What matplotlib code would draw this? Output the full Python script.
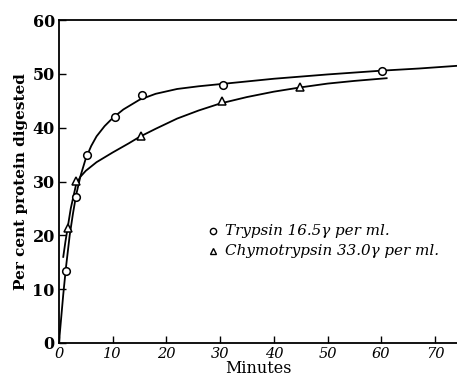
import numpy as np
import matplotlib
matplotlib.use('Agg')
import matplotlib.pyplot as plt

# measured points (minutes, per cent digested)
tryp_min = [1.3, 3.2, 5.3, 10.4, 15.4, 30.5, 60.1]
tryp_pct = [13.3, 27.1, 34.9, 41.9, 46.1, 48.0, 50.6]
chymo_min = [1.6, 3.2, 15.3, 30.3, 44.9]
chymo_pct = [21.3, 30.1, 38.4, 45.0, 47.5]

# hand-drawn smooth curves
tryp_curve_x = [0, 0.4, 0.8, 1.3, 2.0, 2.6, 3.2, 4.0, 5.0, 6.0, 7.0, 8.5, 10, 12, 15, 18, 22, 26, 30, 35, 40, 50, 60, 67, 74.1]
tryp_curve_y = [0, 4.5, 9.0, 14.0, 20.0, 24.0, 27.5, 31.0, 34.3, 36.6, 38.4, 40.3, 41.8, 43.4, 45.2, 46.3, 47.2, 47.7, 48.1, 48.6, 49.1, 49.9, 50.6, 51.0, 51.5]
chymo_curve_x = [0.8, 1.2, 1.6, 2.2, 3.2, 4.0, 5.0, 7.0, 10, 13, 15, 18, 22, 26, 30, 35, 40, 45, 50, 55, 61]
chymo_curve_y = [16.0, 18.8, 21.3, 25.0, 29.5, 30.9, 32.0, 33.6, 35.4, 37.1, 38.3, 39.8, 41.7, 43.2, 44.5, 45.7, 46.7, 47.5, 48.2, 48.7, 49.2]

xticks = [0, 10, 20, 30, 40, 50, 60, 70]
yticks = [0, 10, 20, 30, 40, 50, 60]

fig = plt.figure(figsize=(4.57, 3.79), dpi=100)
ax = fig.add_axes([0.129, 0.095, 0.871, 0.852])

ax.plot(tryp_curve_x, tryp_curve_y, color='black', lw=1.3)
ax.plot(chymo_curve_x, chymo_curve_y, color='black', lw=1.3)
ax.plot(tryp_min, tryp_pct, 'o', ms=5.5, mfc='white', mec='black', mew=1.1, zorder=3)
ax.plot(chymo_min, chymo_pct, '^', ms=5.5, mfc='white', mec='black', mew=1.1, zorder=3)

ax.set_xlim(0, 74.1)
ax.set_ylim(0, 60)
ax.spines['right'].set_visible(False)
for s in ['left', 'bottom', 'top']:
    ax.spines[s].set_linewidth(1.3)

ax.set_xticks(xticks)
ax.set_yticks(yticks)
ax.tick_params(direction='in', length=5, width=1, pad=3)
ax.set_xticklabels([str(t) for t in xticks], family='DejaVu Serif', style='italic', fontsize=10.5)
ax.set_yticklabels([str(t) for t in yticks], family='DejaVu Serif', fontweight='bold', fontsize=11.5)

ax.set_xlabel('Minutes', family='DejaVu Serif', fontsize=11.5, labelpad=-1)
ax.set_ylabel('Per cent protein digested', family='DejaVu Serif', fontweight='bold', fontsize=11, labelpad=3)

# legend drawn as in the original
ax.plot([28.6], [20.8], 'o', ms=4.5, mfc='white', mec='black', mew=1.0, clip_on=False)
ax.plot([28.6], [17.1], '^', ms=4.5, mfc='white', mec='black', mew=1.0, clip_on=False)
ax.text(31.0, 20.8, 'Trypsin 16.5\u03b3 per ml.', family='DejaVu Serif', style='italic', fontsize=10.9, va='center')
ax.text(31.0, 17.1, 'Chymotrypsin 33.0\u03b3 per ml.', family='DejaVu Serif', style='italic', fontsize=10.9, va='center')

fig.savefig('out.png', dpi=100)
